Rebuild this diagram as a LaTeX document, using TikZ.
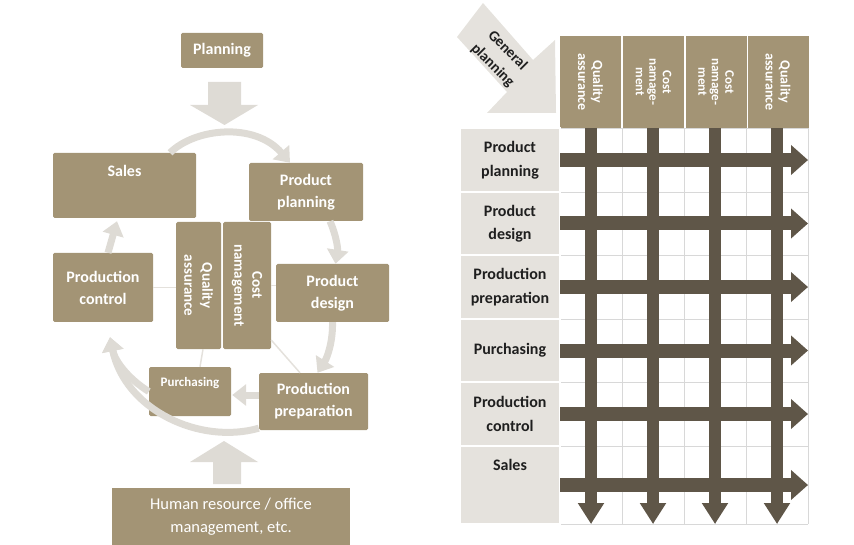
\documentclass[tikz,border=0pt]{standalone}
\usepackage{fontspec}
\setmainfont{Carlito}
\usetikzlibrary{arrows.meta,calc}
\definecolor{boxtan}{HTML}{A39475}
\definecolor{cycgray}{HTML}{DEDBD5}
\definecolor{rowgray}{HTML}{E5E2DD}
\definecolor{darkarr}{HTML}{5F5648}
\definecolor{gridgray}{HTML}{D8D8D8}
\definecolor{spokegray}{HTML}{E4E1DC}
\begin{document}
\begin{tikzpicture}[x=1pt,y=-1pt,
  tanbox/.style={fill=boxtan, rounded corners=1.5pt, inner sep=0pt, text=white,
     font=\bfseries\fontsize{16}{22}\selectfont, align=center},
  hdrbox/.style={fill=boxtan, inner sep=0pt, text=white, rotate=-90,
     minimum width=92pt, minimum height=61pt, align=center},
  rowbox/.style={fill=rowgray, draw=white, line width=1.2pt, inner sep=0pt, text=black!88,
     minimum width=100pt, font=\bfseries\fontsize{16}{23.5}\selectfont, align=center},
  cycarrow/.style={draw=cycgray, line width=7pt, -{Triangle[width=21pt,length=14pt]}},
  spoke/.style={draw=spokegray, line width=1.5pt},
  bigarrow/.style={fill=cycgray},
  harrow/.style={draw=darkarr, line width=14pt, -{Triangle[width=29pt,length=17pt]}},
  varrow/.style={draw=darkarr, line width=12pt, -{Triangle[width=25pt,length=21pt]}},
  gridline/.style={draw=gridgray, line width=0.9pt}
]
\useasboundingbox (0,0) rectangle (854,545);

% ---------------- left diagram ----------------
% big block arrows
\fill[bigarrow] (208,82) -- (241,82) -- (241,105) -- (258,105) -- (224.5,125) -- (190,105) -- (208,105) -- cycle;
\fill[bigarrow] (213,484) -- (241,484) -- (241,462) -- (258,462) -- (224,441) -- (190,462) -- (213,462) -- cycle;

\node[tanbox, minimum width=82pt, minimum height=35pt] (planning) at (222,50.5) {Planning};
\node[tanbox, minimum width=143pt, minimum height=65pt, text height=12pt, text depth=29pt] (sales) at (124.5,185.5) {Sales};
\node[tanbox, minimum width=114pt, minimum height=58pt] (pplan) at (306,192) {Product\\planning};
\node[tanbox, rotate=-90, minimum width=127pt, minimum height=45pt, font=\bfseries\fontsize{15}{18}\selectfont] (qa) at (198.5,285.5) {Quality\\assurance};
\node[tanbox, rotate=-90, minimum width=127pt, minimum height=48pt, font=\bfseries\fontsize{15}{18}\selectfont] (cost) at (247,285.5) {Cost\\namagement};
\node[tanbox, minimum width=100pt, minimum height=69pt] (pcontrol) at (103,287.5) {Production\\control};
\node[tanbox, minimum width=113pt, minimum height=58pt] (pdesign) at (332.5,293) {Product\\design};
\node[tanbox, minimum width=82pt, minimum height=49pt, font=\bfseries\fontsize{13}{16}\selectfont, text height=10pt, text depth=20pt] (purch) at (190,391.5) {Purchasing};
\node[tanbox, minimum width=109pt, minimum height=57pt] (pprep) at (313.5,401.5) {Production\\preparation};
\node[tanbox, rounded corners=0pt, minimum width=238pt, minimum height=57pt, font=\fontsize{16.5}{23}\selectfont] (hr) at (231,516.5) {Human resource / office\\management, etc.};

% faint spokes
\draw[spoke] (pcontrol.east) -- (pcontrol.east -| qa.south);
\draw[spoke] (cost.north) -- (cost.north -| pdesign.west);
\draw[spoke] ($(qa.east)+(4.5,0)$) -- ($(purch.north)+(10,0)$);
\draw[spoke] ($(cost.north)+(0,54.5)$) -- ($(pprep.north)+(-13.5,0)$);

% cycle arrows
\coordinate (pctip) at ($(pcontrol.south)+(7,15)$);
\draw[cycarrow] ($(sales.north)+(45.5,0)$) .. controls (195,128) and (255,122) .. ($(pplan.north)+(-16,0)$);
\draw[cycarrow] ($(pplan.south)+(24,0)$) .. controls (336,235) and (338,248) .. ($(pdesign.north)+(3,0)$);
\draw[cycarrow] (pdesign.south) .. controls (333,342) and (327,358) .. ($(pprep.north)+(4,0)$);
\draw[cycarrow] ($(pprep.west)+(0,-6.5)$) -- ($(purch.east)+(1,3.5)$);
\draw[cycarrow] ($(pprep.south west)+(0,-2)$) .. controls (200,445) and (125,410) .. (pctip);
\draw[cycarrow] (purch.west) .. controls (130,380) and (115,362) .. (pctip);
\draw[cycarrow] ($(pcontrol.north)+(5,0)$) -- ($(sales.south)+(-7.5,3)$);

% ---------------- right diagram ----------------
% grid
\foreach \gx in {560,591,622,653,684,715,746,777,808}
  \draw[gridline] (\gx,128) -- (\gx,524);
\foreach \gy in {128,160,192,223.5,255,287,319,350.5,382,414,446,485,524}
  \draw[gridline] (560,\gy) -- (808,\gy);

% general planning arrow
\fill[rowgray] (483,3) -- (533,60) -- (555,40) -- (556,113) -- (487,113) -- (507,92) -- (457,37) -- cycle;
\node[rotate=-45, inner sep=0pt, align=center, text=black!88, font=\bfseries\fontsize{15}{21}\selectfont] (gplan) at (500,58) {General\\planning};

% header columns
\node[hdrbox, font=\bfseries\fontsize{14}{15}\selectfont] (h1) at (590.5,82) {Quality\\assurance};
\node[hdrbox, font=\bfseries\fontsize{13}{13.5}\selectfont] (h2) at (653.5,82) {Cost\\namage-\\ment};
\node[hdrbox, font=\bfseries\fontsize{13}{13.5}\selectfont] (h3) at (716,82) {Cost\\namage-\\ment};
\node[hdrbox, font=\bfseries\fontsize{14}{15}\selectfont] (h4) at (778,82) {Quality\\assurance};

% row labels
\node[rowbox, minimum height=64pt] (r1) at (510,160) {Product\\planning};
\node[rowbox, minimum height=63pt] (r2) at (510,223.5) {Product\\design};
\node[rowbox, minimum height=64pt] (r3) at (510,287) {Production\\preparation};
\node[rowbox, minimum height=63pt] (r4) at (510,350.5) {Purchasing};
\node[rowbox, minimum height=64pt] (r5) at (510,414) {Production\\control};
\node[rowbox, minimum height=78pt, text height=12pt, text depth=41pt] (r6) at (510,485) {Sales};

% horizontal arrows
\foreach \ry in {160,223.5,287,350.5,414,485}
  \draw[harrow] (560,\ry) -- (808,\ry);
% vertical arrows
\foreach \cx in {591,653,715,777}
  \draw[varrow] (\cx,128) -- (\cx,524);
\end{tikzpicture}
\end{document}
